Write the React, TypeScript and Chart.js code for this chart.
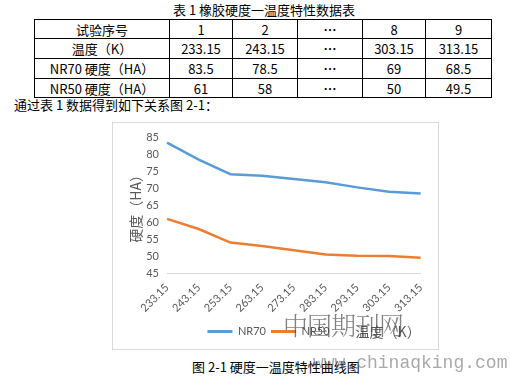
import React, { useEffect, useRef } from "react";
import { Chart, registerables } from "chart.js";

Chart.register(...registerables);

// ---- chart data ----
const temperatures = ["233.15", "243.15", "253.15", "263.15", "273.15", "283.15", "293.15", "303.15", "313.15"];
const nr70 = [83.5, 78.5, 74.2, 73.7, 72.8, 71.8, 70.3, 69, 68.5];
const nr50 = [61, 58, 54, 53, 51.7, 50.5, 50.1, 50, 49.5];
const yMin = 45;
const yMax = 85;
const yStep = 5;

// ---- table data ----
const rowHeader = ["试验序号", "1", "2", "…", "8", "9"];
const rowTemp = ["温度（K）", "233.15", "243.15", "…", "303.15", "313.15"];
const rowNR70 = ["NR70 硬度（HA）", "83.5", "78.5", "…", "69", "68.5"];
const rowNR50 = ["NR50 硬度（HA）", "61", "58", "…", "50", "49.5"];
const tableRows = [rowHeader, rowTemp, rowNR70, rowNR50];

const CJK = '"Noto Sans CJK SC", sans-serif';
const LAT = 'Lato, "Noto Sans CJK SC", sans-serif';
const GRAY = "#595959";

const colEdges = [34, 169, 232, 297, 362, 425, 491];
const rowEdges = [19, 38, 58, 78, 97];

const xTitlePlugin = {
  id: "xTitleRight",
  afterDraw(chart: any) {
    const { ctx, chartArea, legend } = chart;
    const hb = legend && legend.legendHitBoxes && legend.legendHitBoxes[0];
    const y = hb ? hb.top + hb.height / 2 : chart.height - 17;
    ctx.save();
    ctx.font = `14px ${CJK}`;
    ctx.fillStyle = GRAY;
    ctx.textAlign = "right";
    ctx.textBaseline = "middle";
    ctx.fillText("温度（K）", chartArea.right, y);
    ctx.restore();
  },
};

function HardnessChart() {
  const ref = useRef<HTMLCanvasElement | null>(null);
  useEffect(() => {
    if (!ref.current) return;
    const chart = new Chart(ref.current, {
      type: "line",
      data: {
        labels: temperatures,
        datasets: [
          {
            label: "NR70",
            data: nr70,
            borderColor: "#5b9bd5",
            backgroundColor: "#5b9bd5",
            borderWidth: 2.5,
            pointRadius: 0,
            tension: 0,
          },
          {
            label: "NR50",
            data: nr50,
            borderColor: "#ed7d31",
            backgroundColor: "#ed7d31",
            borderWidth: 2.5,
            pointRadius: 0,
            tension: 0,
          },
        ],
      },
      options: {
        animation: false,
        responsive: false,
        maintainAspectRatio: false,
        layout: { padding: { left: 0, right: 14, top: 13, bottom: 2 } },
        plugins: {
          tooltip: { enabled: false },
          legend: {
            position: "bottom",
            labels: {
              boxWidth: 25,
              boxHeight: 3,
              padding: 5,
              color: GRAY,
              font: { family: LAT, size: 11 },
              generateLabels: (c: any) =>
                (Chart.defaults.plugins.legend.labels as any)
                  .generateLabels(c)
                  .map((l: any) => ({ ...l, lineWidth: 0 })),
            },
          },
        },
        scales: {
          x: {
            grid: { display: false, drawTicks: false },
            border: { display: true, color: "#d9d9d9", width: 1 },
            ticks: {
              autoSkip: false,
              minRotation: 45,
              maxRotation: 45,
              padding: 8,
              color: GRAY,
              font: { family: LAT, size: 11 },
            },
            afterFit: (s: any) => {
              s.height = 48;
            },
          },
          y: {
            min: yMin,
            max: yMax,
            grid: { display: false, drawTicks: false },
            border: { display: false },
            ticks: {
              stepSize: yStep,
              padding: 8,
              color: GRAY,
              font: { family: LAT, size: 11 },
            },
            title: {
              display: true,
              text: "硬度（HA）",
              color: GRAY,
              font: { family: CJK, size: 14 },
              padding: { top: 14, bottom: 0 },
            },
            afterFit: (s: any) => {
              s.width = 54;
            },
          },
        },
      },
      plugins: [xTitlePlugin],
    } as any);
    return () => chart.destroy();
  }, []);
  return <canvas ref={ref} width={325} height={226} style={{ display: "block", width: 325, height: 226 }} />;
}

export default function App() {
  return (
    <div
      style={{
        position: "absolute",
        left: 0,
        top: 0,
        width: 510,
        height: 382,
        background: "#fff",
        overflow: "hidden",
        fontFamily: CJK,
        color: "#000",
      }}
    >
      <div style={{ position: "absolute", left: 173, top: 2, fontSize: 13, lineHeight: "15px", whiteSpace: "nowrap" }}>
        表 1 橡胶硬度一温度特性数据表
      </div>

      {tableRows.map((row, r) =>
        row.map((cell, c) => (
          <div
            key={`${r}-${c}`}
            style={{
              position: "absolute",
              left: colEdges[c],
              top: rowEdges[r],
              width: colEdges[c + 1] - colEdges[c] + 1,
              height: rowEdges[r + 1] - rowEdges[r] + 1,
              border: "1px solid #000",
              boxSizing: "border-box",
              display: "flex",
              alignItems: "center",
              justifyContent: "center",
              fontSize: 13,
              lineHeight: "15px",
              whiteSpace: "nowrap",
              fontWeight: cell === "…" ? 700 : 400,
            }}
          >
            {cell}
          </div>
        ))
      )}

      <div style={{ position: "absolute", left: 14, top: 97, fontSize: 13, lineHeight: "15px", whiteSpace: "nowrap" }}>
        通过表 1 数据得到如下关系图 2-1：
      </div>

      <div
        style={{
          position: "absolute",
          left: 112,
          top: 122,
          width: 327,
          height: 228,
          border: "1px solid #d9d9d9",
          boxSizing: "border-box",
          background: "#fff",
        }}
      >
        <HardnessChart />
      </div>

      <div style={{ position: "absolute", left: 192, top: 359, fontSize: 13, lineHeight: "15px", whiteSpace: "nowrap" }}>
        图 2-1 硬度一温度特性曲线图
      </div>

      <div
        style={{
          position: "absolute",
          left: 283,
          top: 311,
          fontSize: 25,
          lineHeight: "27px",
          letterSpacing: -1,
          whiteSpace: "nowrap",
          color: "rgba(60,60,60,0.65)",
          fontFamily: '"Noto Serif CJK SC", "Noto Sans CJK SC", serif',
          fontWeight: 300,
        }}
      >
        中国期刊网
      </div>
      <div
        style={{
          position: "absolute",
          left: 313,
          top: 353,
          fontSize: 18,
          lineHeight: "20px",
          whiteSpace: "nowrap",
          color: "rgba(110,110,110,0.6)",
          fontFamily: '"Liberation Mono", "DejaVu Sans Mono", monospace',
        }}
      >
        www.chinaqking.com
      </div>
    </div>
  );
}
